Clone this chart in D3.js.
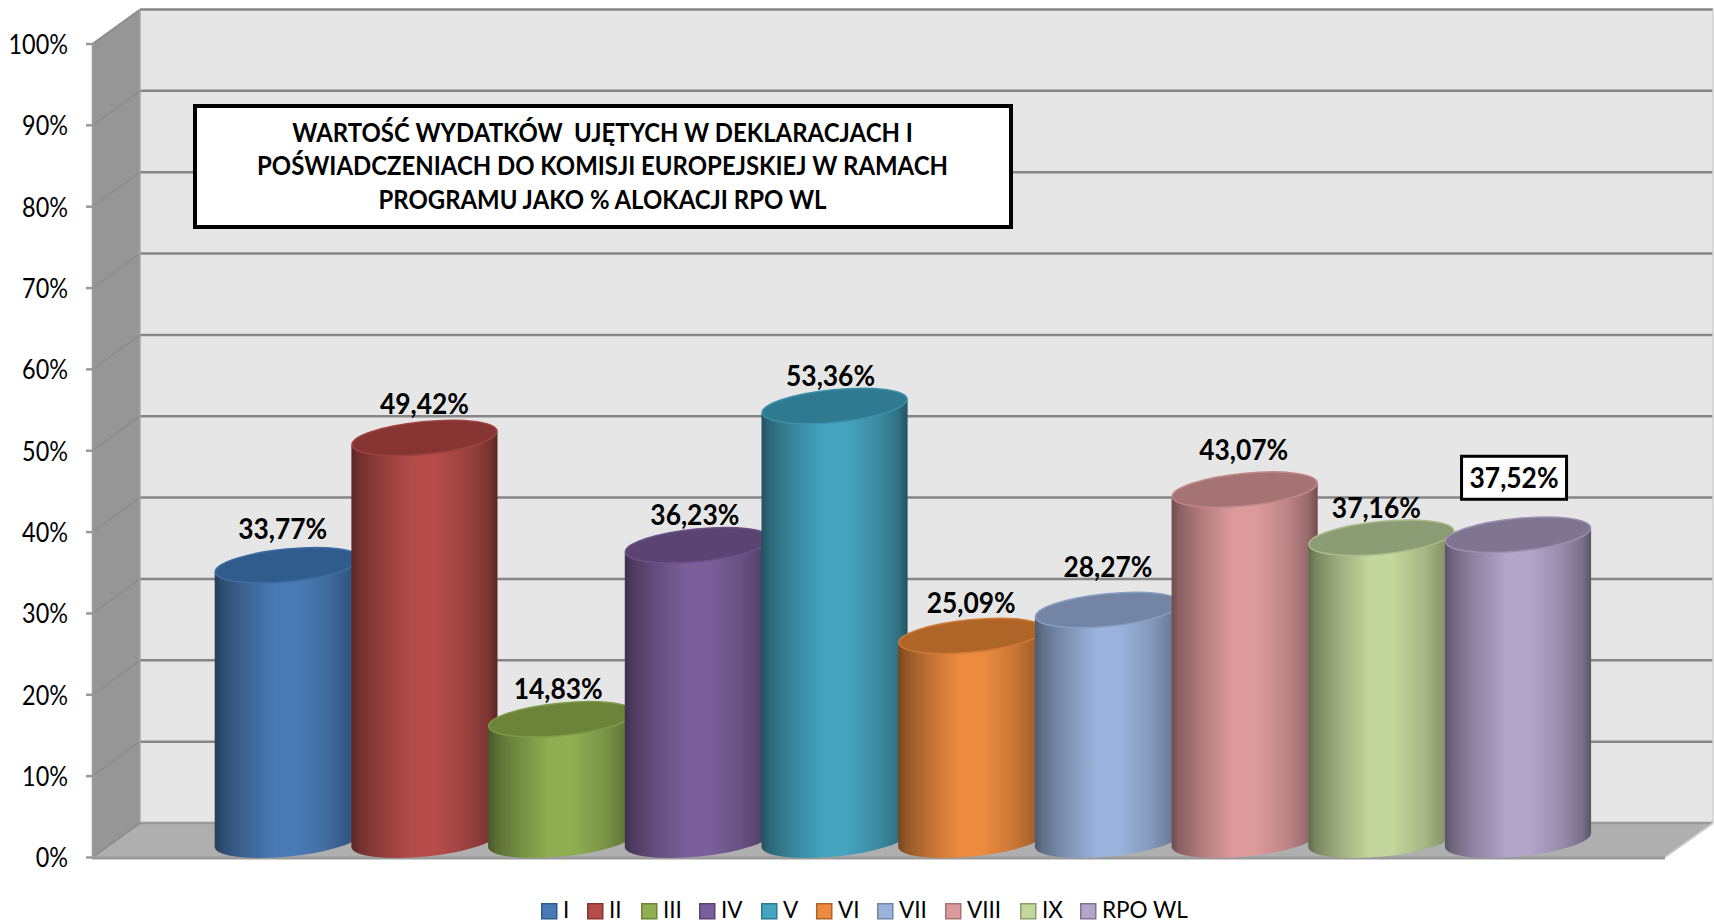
<!DOCTYPE html>
<html><head><meta charset="utf-8">
<script src="https://cdn.jsdelivr.net/npm/d3@7"></script>
<style>html,body{margin:0;padding:0;background:#fff;overflow:hidden}svg{display:block}text{font-family:Lato,"Open Sans",sans-serif;fill:#000}</style>
</head><body>
<svg id="c" width="1714" height="923"></svg>
<script>
const categories = ["I","II","III","IV","V","VI","VII","VIII","IX","RPO WL"];
const values = [33.77,49.42,14.83,36.23,53.36,25.09,28.27,43.07,37.16,37.52];
const barColors = ["#4a7ab5","#b54c4a","#8fae52","#7a5f9a","#45a4bf","#ec8b3f","#9ab3dc","#dd9a9c","#c3d69b","#b3a4ca"];
const topColors = ["#2f5c8d","#873533","#6b8439","#5b4373","#2f7a90","#b06528","#7384a5","#a67375","#8c9c74","#7f7590"];
const yTicks = [0,10,20,30,40,50,60,70,80,90,100];
const titleLines = ["WARTOŚĆ WYDATKÓW  UJĘTYCH W DEKLARACJACH I","POŚWIADCZENIACH DO KOMISJI EUROPEJSKIEJ W RAMACH","PROGRAMU JAKO % ALOKACJI RPO WL"];
const labelGaps = [37.5,35.5,31.5,31.5,31.5,34.5,44.5,41.5,31.5,58.5];
const labelShift = [-5,0,-3,-3,-4,0,0,-1,-5,-4];
const legendSwatchX = [541,587,641,699,761,816,877,945,1020,1080];

const svg = d3.select("#c");
const GRID="#868686";
const depthX=47, depthY=34;
const x0=93, x1=1665, wallR=x0+1620;
const y = d3.scaleLinear().domain([0,100]).range([857,43.5]);
const x = d3.scaleBand().domain(categories).range([215,215+1367]);
const bw=x.bandwidth();
const rx=73.4, ry=16.6, rot=-5.6, rad=rot*Math.PI/180;
const dxE=rx*Math.cos(rad), dyE=rx*Math.sin(rad);

function squeeze(k){return function(){const n=this.getComputedTextLength();d3.select(this).attr("textLength",n*k).attr("lengthAdjust","spacingAndGlyphs");};}

// gradients
const defs=svg.append("defs");
const stops=[[0,.5],[.05,.62],[.2,.8],[.42,1],[.58,1],[.8,.85],[.94,.68],[1,.5]];
barColors.forEach((c,i)=>{
  const g=defs.append("linearGradient").attr("id","g"+i).attr("x1",0).attr("x2",1).attr("y1",0).attr("y2",0);
  stops.forEach(s=>{const k=d3.rgb(c);g.append("stop").attr("offset",s[0]).attr("stop-color",d3.rgb(k.r*s[1],k.g*s[1],k.b*s[1]).formatHex());});
});

// walls
svg.append("rect").attr("x",x0+depthX).attr("y",y(100)-depthY).attr("width",wallR-x0-depthX).attr("height",y(0)-y(100)).attr("fill","#e6e6e6");
svg.append("polygon").attr("fill","#969696").attr("points",[[x0,y(100)],[x0+depthX,y(100)-depthY],[x0+depthX,y(0)-depthY],[x0,y(0)]].join(" "));
svg.append("polygon").attr("fill","#afafaf").attr("points",[[x0,y(0)],[x0+depthX,y(0)-depthY],[wallR,y(0)-depthY],[x1,y(0)]].join(" "));

// grid
svg.append("g").selectAll("line").data(yTicks).join("line")
  .attr("x1",x0+depthX).attr("x2",wallR).attr("y1",d=>y(d)-depthY).attr("y2",d=>y(d)-depthY)
  .attr("stroke",d=>d===0?"#999":GRID).attr("stroke-width",2.5);
svg.append("g").selectAll("line").data(yTicks).join("line")
  .attr("x1",x0).attr("x2",x0+depthX).attr("y1",d=>y(d)).attr("y2",d=>y(d)-depthY)
  .attr("stroke","#8c8c8c").attr("stroke-width",1.6);
svg.append("line").attr("x1",x0+depthX).attr("x2",x0+depthX).attr("y1",y(100)-depthY).attr("y2",y(0)-depthY).attr("stroke","#a4a4a4").attr("stroke-width",1.5);
svg.append("line").attr("x1",wallR).attr("x2",x1).attr("y1",y(0)-depthY).attr("y2",y(0)).attr("stroke","#c8c8c8").attr("stroke-width",2);
svg.append("line").attr("x1",wallR).attr("x2",wallR).attr("y1",y(100)-depthY).attr("y2",y(0)-depthY).attr("stroke","#d0d0d0").attr("stroke-width",1.5);

// y axis
const axis=svg.append("g").attr("transform",`translate(${x0},0)`)
  .call(d3.axisLeft(y).tickValues(yTicks).tickFormat(d=>d+"%").tickSize(7).tickPadding(18));
axis.selectAll("path,line").attr("stroke","#999").attr("stroke-width",2.5);
axis.select("path").attr("d",`M0,${y(100)}V${y(0)+1}`);
axis.selectAll("text").attr("font-size",26).attr("font-family","Lato").attr("fill","#0d0d0d").attr("y",1.5).each(squeeze(.9));
svg.append("line").attr("x1",x0-1).attr("x2",x1).attr("y1",y(0)+1).attr("y2",y(0)+1).attr("stroke","#999").attr("stroke-width",3);

// cylinders
const cx=c=>x(c)+bw/2+4.4;
const cyTop=v=>y(v)-depthY/2;
const cyBot=cyTop(0);
const bars=svg.append("g").selectAll("g").data(categories).join("g");
bars.append("path").attr("fill",(d,i)=>`url(#g${i})`).attr("d",(c)=>{
  const v=values[categories.indexOf(c)],X=cx(c),T=cyTop(v);
  return `M${X-dxE},${T-dyE}L${X-dxE},${cyBot-dyE}A${rx},${ry} ${rot} 0 0 ${X+dxE},${cyBot+dyE}L${X+dxE},${T+dyE}Z`;
});
bars.append("ellipse").attr("cx",0).attr("cy",0).attr("rx",rx-.6).attr("ry",ry-.3)
  .attr("transform",(c,i)=>`translate(${cx(c)},${cyTop(values[i])}) rotate(${rot})`)
  .attr("fill",(d,i)=>topColors[i]).attr("stroke",(d,i)=>d3.interpolateRgb(topColors[i],barColors[i])(.55)).attr("stroke-width",1.5);

// value labels
const fmt=v=>v.toFixed(2).replace(".",",")+"%";
const lab=svg.append("g");
const boxI=categories.length-1;
lab.append("rect").attr("x",cx(categories[boxI])-56.5).attr("width",105).attr("y",cyTop(values[boxI])-78.5).attr("height",43)
  .attr("fill","#fff").attr("stroke","#000").attr("stroke-width",3);
lab.selectAll("text").data(values).join("text")
  .attr("x",(v,i)=>cx(categories[i])+labelShift[i]).attr("y",(v,i)=>cyTop(v)-labelGaps[i])
  .attr("text-anchor","middle").attr("dominant-baseline","central").attr("font-size",29).attr("font-weight",700)
  .text(fmt).each(squeeze(.91));

// title box
svg.append("rect").attr("x",195).attr("y",106).attr("width",816).attr("height",121).attr("fill","#fff").attr("stroke","#000").attr("stroke-width",4);
svg.append("g").selectAll("text").data(titleLines).join("text")
  .attr("x",602.5).attr("y",(d,i)=>132+i*33.3).attr("text-anchor","middle").attr("dominant-baseline","central")
  .attr("font-size",26).attr("font-weight",700).style("white-space","pre").text(d=>d).each(squeeze(.92));

// legend
const leg=svg.append("g").selectAll("g").data(categories).join("g").attr("transform",(d,i)=>`translate(${legendSwatchX[i]},903)`);
leg.append("rect").attr("x",.75).attr("y",.75).attr("width",15).attr("height",15)
  .attr("fill",(d,i)=>barColors[i]).attr("stroke",(d,i)=>topColors[i]).attr("stroke-width",1.5);
leg.append("text").attr("x",22).attr("y",6.5).attr("dominant-baseline","central").attr("font-size",22.5).attr("fill","#0d0d0d").text(d=>d);
</script>
</body></html>
